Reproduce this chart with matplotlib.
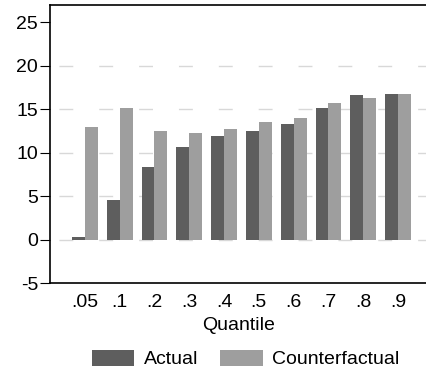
import matplotlib
matplotlib.use("Agg")
import matplotlib.pyplot as plt
import numpy as np

plt.rcParams['font.family'] = ['Liberation Sans', 'DejaVu Sans']
plt.rcParams['axes.unicode_minus'] = False

quantiles = [".05", ".1", ".2", ".3", ".4", ".5", ".6", ".7", ".8", ".9"]
actual = [0.25, 4.55, 8.4, 10.6, 11.9, 12.5, 13.25, 15.15, 16.6, 16.8]
counterfactual = [13.0, 15.1, 12.45, 12.3, 12.75, 13.55, 14.0, 15.75, 16.3, 16.7]

fig = plt.figure(figsize=(4.27, 3.79), dpi=100)
ax = fig.add_axes([50 / 427, 1 - 283 / 379, 1 - 50 / 427, (283 - 5) / 379])

x = np.arange(1, len(quantiles) + 1)
w = 0.37
for g in [0, 5, 10, 15, 20]:
    ax.axhline(g, color='#d8d8d8', lw=1, linestyle=(22.3, (10, 18.7)), zorder=0)
ax.bar(x - w / 2, actual, w, color='#5e5e5e', label='Actual', zorder=2)
ax.bar(x + w / 2, counterfactual, w, color='#9e9e9e', label='Counterfactual', zorder=2)

ax.set_xlim(0, 10.83)
ax.set_ylim(-5, 27)
ax.set_yticks([-5, 0, 5, 10, 15, 20, 25])
ax.set_xticks(x)
ax.set_xticklabels(quantiles)
ax.tick_params(axis='y', labelsize=14, length=7, width=0.8, pad=1.5)
ax.tick_params(axis='x', labelsize=14, length=0, pad=8)
ax.spines['right'].set_visible(False)
for s in ['left', 'top', 'bottom']:
    ax.spines[s].set_linewidth(1.2)
ax.set_xlabel('Quantile', fontsize=14, labelpad=4)

fig.legend(loc='lower center', bbox_to_anchor=(0.575, -0.018), ncol=2, frameon=False,
           fontsize=14, handlelength=2.2, handleheight=0.9, columnspacing=1.1,
           handletextpad=0.5)

fig.savefig('out.png', dpi=100)
